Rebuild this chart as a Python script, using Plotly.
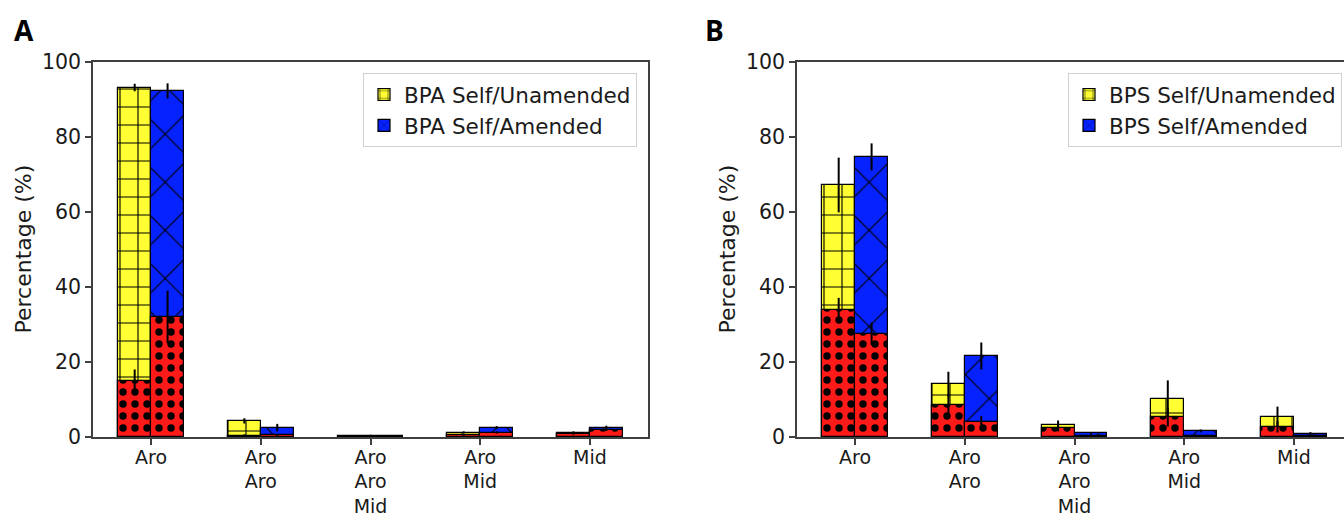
import plotly.graph_objects as go

categories = ["Aro", "Aro<br>Aro", "Aro<br>Aro<br>Mid", "Aro<br>Mid", "Mid"]

# Panel A (BPA)
A_unam_total = [93.2, 4.3, 0.15, 1.2, 1.2]
A_unam_total_err = [1.0, 0.7, 0.1, 0.3, 0.3]
A_unam_red = [15.0, 0.4, 0.05, 0.5, 0.8]
A_unam_red_err = [3.0, 0.3, 0.05, 0.2, 0.2]
A_am_total = [92.3, 2.5, 0.3, 2.5, 2.5]
A_am_total_err = [2.0, 1.0, 0.1, 0.4, 0.5]
A_am_red = [32.0, 0.5, 0.1, 1.2, 1.9]
A_am_red_err = [7.0, 0.3, 0.05, 0.3, 0.3]

# Panel B (BPS)
B_unam_total = [67.2, 14.1, 3.2, 10.1, 5.3]
B_unam_total_err = [7.3, 3.3, 1.2, 5.0, 2.8]
B_unam_red = [33.9, 8.5, 2.3, 5.3, 2.7]
B_unam_red_err = [3.2, 3.0, 0.8, 2.5, 1.5]
B_am_total = [74.7, 21.6, 1.0, 1.6, 0.9]
B_am_total_err = [3.6, 3.6, 0.3, 0.4, 0.4]
B_am_red = [27.5, 4.1, 0.2, 0.3, 0.2]
B_am_red_err = [3.0, 1.5, 0.1, 0.1, 0.1]

names_A = ["BPA Self/Unamended", "BPA Self/Amended"]
names_B = ["BPS Self/Unamended", "BPS Self/Amended"]

W = 0.3
FONT = "DejaVu Sans"
TXT = "#1a1a1a"
YELLOW, BLUE, RED = "#ffff33", "#0522ff", "#ff1a1a"
fig = go.Figure()

pat_yellow = dict(shape="+", fgcolor="black", bgcolor=YELLOW, size=18, solidity=0.12, fillmode="replace")
pat_blue = dict(shape="x", fgcolor="black", bgcolor=BLUE, size=34, solidity=0.07, fillmode="replace")
pat_red = dict(shape=".", fgcolor="black", bgcolor=RED, size=12, solidity=0.3, fillmode="replace")


def err(a):
    return dict(type="data", array=a, visible=True, color="black", thickness=2, width=0)


def add_panel(xa, ya, legend, names, ut, ute, ur, ure, at, ate, ar, are):
    idx = list(range(len(categories)))
    xl = [i - W / 2 for i in idx]
    xr = [i + W / 2 for i in idx]
    line = dict(color="black", width=1.2)
    fig.add_trace(go.Bar(x=xl, y=ut, width=W, name=names[0], xaxis=xa, yaxis=ya, legend=legend,
                         marker=dict(color=YELLOW, line=line, pattern=pat_yellow), error_y=err(ute)))
    fig.add_trace(go.Bar(x=xr, y=at, width=W, name=names[1], xaxis=xa, yaxis=ya, legend=legend,
                         marker=dict(color=BLUE, line=line, pattern=pat_blue), error_y=err(ate)))
    fig.add_trace(go.Bar(x=xl, y=ur, width=W, showlegend=False, xaxis=xa, yaxis=ya,
                         marker=dict(color=RED, line=line, pattern=pat_red), error_y=err(ure)))
    fig.add_trace(go.Bar(x=xr, y=ar, width=W, showlegend=False, xaxis=xa, yaxis=ya,
                         marker=dict(color=RED, line=line, pattern=pat_red), error_y=err(are)))


add_panel("x", "y", "legend", names_A, A_unam_total, A_unam_total_err, A_unam_red, A_unam_red_err,
          A_am_total, A_am_total_err, A_am_red, A_am_red_err)
add_panel("x2", "y2", "legend2", names_B, B_unam_total, B_unam_total_err, B_unam_red, B_unam_red_err,
          B_am_total, B_am_total_err, B_am_red, B_am_red_err)

TW, TH = 1344, 516
PT, PH = 62, 375
axis_common = dict(showgrid=False, zeroline=False, showline=True, linecolor="#404040", linewidth=1.5,
                   ticks="outside", ticklen=6, tickwidth=1.5, tickcolor="#404040", automargin=False)
yfont = dict(family=FONT, size=20.5, color=TXT)
xfont = dict(family=FONT, size=19, color=TXT)


def py(px):
    return 1 - (px - PT) / PH


xvals = list(range(len(categories)))
legfont = dict(family=FONT, size=21.5, color=TXT)
fig.update_layout(
    width=TW, height=TH,
    margin=dict(l=0, r=0, t=PT, b=TH - PT - PH, autoexpand=False),
    plot_bgcolor="white", paper_bgcolor="white",
    barmode="overlay", bargap=0,
    font=dict(family=FONT, size=20, color=TXT),
    xaxis=dict(domain=[93 / TW, 648 / TW], range=[-0.53, 4.53], tickvals=xvals, ticktext=categories,
               mirror=True, anchor="y", ticklabelstandoff=-4, tickfont=xfont, **axis_common),
    yaxis=dict(domain=[0, 1], range=[0, 100], tickvals=[0, 20, 40, 60, 80, 100], mirror=True,
               anchor="x", tickfont=yfont, **axis_common),
    xaxis2=dict(domain=[797 / TW, 1.0], range=[-0.53, -0.53 + (TW - 797) / 109.7], tickvals=xvals,
                ticktext=categories, mirror=True, anchor="y2", ticklabelstandoff=-4, tickfont=xfont,
                **axis_common),
    yaxis2=dict(domain=[0, 1], range=[0, 100], tickvals=[0, 20, 40, 60, 80, 100], mirror=False,
                anchor="x2", tickfont=yfont, **axis_common),
    legend=dict(x=637 / TW, xref="paper", xanchor="right", y=py(73), yref="paper",
                yanchor="top", bgcolor="white", bordercolor="#d0d0d0", borderwidth=1,
                font=legfont, traceorder="normal"),
    legend2=dict(x=1342 / TW, xref="paper", xanchor="right", y=py(73), yref="paper",
                 yanchor="top", bgcolor="white", bordercolor="#d0d0d0", borderwidth=1,
                 font=legfont, traceorder="normal"),
    annotations=[
        dict(text="<b>A</b>", x=12 / TW, y=py(30), xref="paper", yref="paper", showarrow=False,
             xanchor="left", yanchor="middle", font=dict(family="Open Sans", size=28, color="black")),
        dict(text="<b>B</b>", x=703 / TW, y=py(30), xref="paper", yref="paper", showarrow=False,
             xanchor="left", yanchor="middle", font=dict(family="Open Sans", size=28, color="black")),
        dict(text="Percentage (%)", x=23 / TW, y=0.5, xref="paper", yref="paper", showarrow=False,
             textangle=-90, xanchor="center", yanchor="middle", font=dict(family=FONT, size=22, color=TXT)),
        dict(text="Percentage (%)", x=727 / TW, y=0.5, xref="paper", yref="paper", showarrow=False,
             textangle=-90, xanchor="center", yanchor="middle", font=dict(family=FONT, size=22, color=TXT)),
    ],
)

fig.write_html("out.html")
